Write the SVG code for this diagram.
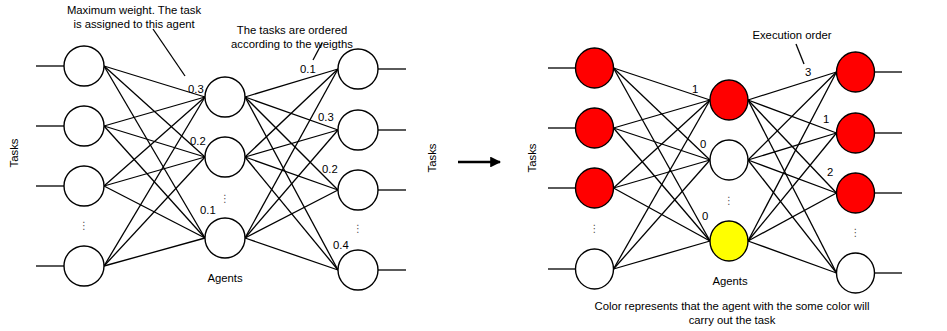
<svg xmlns="http://www.w3.org/2000/svg" width="947" height="331" viewBox="0 0 947 331">
  <style>
    .n { stroke: #000; stroke-width: 1.4; }
    .w { fill: #fff; }
    .r { fill: #ff0000; }
    .y { fill: #ffff00; }
    .e line { stroke: #000; stroke-width: 1.3; }
    .t { font-family: "Liberation Sans", Arial, sans-serif; font-size: 11.3px; fill: #000; }
    .c { text-anchor: middle; }
    .d { font-family: "DejaVu Sans", sans-serif; font-size: 10px; fill: #555; text-anchor: middle; }
  </style>
  <defs>
    <marker id="head" viewBox="0 0 10 10" refX="9" refY="5" markerWidth="4.2" markerHeight="4.2" orient="auto" markerUnits="strokeWidth">
      <path d="M0,0 L10,5 L0,10 Z" fill="#000"/>
    </marker>
  </defs>

  <!-- connectors -->
  <g id="connectors" class="e">
    <!-- left network: input stubs -->
    <line x1="36" y1="66" x2="64" y2="66"/>
    <line x1="36" y1="126" x2="64" y2="126"/>
    <line x1="36" y1="186" x2="64" y2="186"/>
    <line x1="36" y1="266" x2="64" y2="266"/>
    <!-- tasks to agents -->
    <line x1="104" y1="66" x2="205" y2="97"/>
    <line x1="104" y1="66" x2="205" y2="157"/>
    <line x1="104" y1="66" x2="205" y2="238"/>
    <line x1="104" y1="126" x2="205" y2="97"/>
    <line x1="104" y1="126" x2="205" y2="157"/>
    <line x1="104" y1="126" x2="205" y2="238"/>
    <line x1="104" y1="186" x2="205" y2="97"/>
    <line x1="104" y1="186" x2="205" y2="157"/>
    <line x1="104" y1="186" x2="205" y2="238"/>
    <line x1="104" y1="266" x2="205" y2="97"/>
    <line x1="104" y1="266" x2="205" y2="157"/>
    <line x1="104" y1="266" x2="205" y2="238"/>
    <!-- agents to ordered tasks -->
    <line x1="245" y1="97" x2="338" y2="69"/>
    <line x1="245" y1="97" x2="338" y2="130"/>
    <line x1="245" y1="97" x2="338" y2="190"/>
    <line x1="245" y1="97" x2="338" y2="270"/>
    <line x1="245" y1="157" x2="338" y2="69"/>
    <line x1="245" y1="157" x2="338" y2="130"/>
    <line x1="245" y1="157" x2="338" y2="190"/>
    <line x1="245" y1="157" x2="338" y2="270"/>
    <line x1="245" y1="238" x2="338" y2="69"/>
    <line x1="245" y1="238" x2="338" y2="130"/>
    <line x1="245" y1="238" x2="338" y2="190"/>
    <line x1="245" y1="238" x2="338" y2="270"/>
    <!-- output stubs -->
    <line x1="378" y1="69" x2="406" y2="69"/>
    <line x1="378" y1="130" x2="406" y2="130"/>
    <line x1="378" y1="190" x2="406" y2="190"/>
    <line x1="378" y1="270" x2="406" y2="270"/>
    <!-- callouts -->
    <line x1="153" y1="29" x2="185" y2="76"/>
    <line x1="322" y1="43" x2="313" y2="60"/>

    <!-- transition arrow -->
    <line x1="458" y1="162" x2="500" y2="162" stroke-width="2.6" marker-end="url(#head)" style="stroke-width:2.6"/>

    <!-- right network: input stubs -->
    <line x1="548" y1="68" x2="575.5" y2="68"/>
    <line x1="548" y1="128" x2="575.5" y2="128"/>
    <line x1="548" y1="188" x2="575.5" y2="188"/>
    <line x1="548" y1="269" x2="575.5" y2="269"/>
    <!-- tasks to agents -->
    <line x1="613.5" y1="68" x2="710" y2="100"/>
    <line x1="613.5" y1="68" x2="710" y2="160"/>
    <line x1="613.5" y1="68" x2="710" y2="241"/>
    <line x1="613.5" y1="128" x2="710" y2="100"/>
    <line x1="613.5" y1="128" x2="710" y2="160"/>
    <line x1="613.5" y1="128" x2="710" y2="241"/>
    <line x1="613.5" y1="188" x2="710" y2="100"/>
    <line x1="613.5" y1="188" x2="710" y2="160"/>
    <line x1="613.5" y1="188" x2="710" y2="241"/>
    <line x1="613.5" y1="269" x2="710" y2="100"/>
    <line x1="613.5" y1="269" x2="710" y2="160"/>
    <line x1="613.5" y1="269" x2="710" y2="241"/>
    <!-- agents to ordered tasks -->
    <line x1="748" y1="100" x2="836.5" y2="72"/>
    <line x1="748" y1="100" x2="836.5" y2="133"/>
    <line x1="748" y1="100" x2="836.5" y2="193"/>
    <line x1="748" y1="100" x2="836.5" y2="273"/>
    <line x1="748" y1="160" x2="836.5" y2="72"/>
    <line x1="748" y1="160" x2="836.5" y2="133"/>
    <line x1="748" y1="160" x2="836.5" y2="193"/>
    <line x1="748" y1="160" x2="836.5" y2="273"/>
    <line x1="748" y1="241" x2="836.5" y2="72"/>
    <line x1="748" y1="241" x2="836.5" y2="133"/>
    <line x1="748" y1="241" x2="836.5" y2="193"/>
    <line x1="748" y1="241" x2="836.5" y2="273"/>
    <!-- output stubs -->
    <line x1="874.5" y1="72" x2="902" y2="72"/>
    <line x1="874.5" y1="133" x2="902" y2="133"/>
    <line x1="874.5" y1="193" x2="902" y2="193"/>
    <line x1="874.5" y1="273" x2="902" y2="273"/>
    <!-- callout -->
    <line x1="796" y1="44" x2="804" y2="64"/>
  </g>

  <!-- left network nodes -->
  <g id="task-a1"><circle class="n w" cx="84" cy="66" r="20"/></g>
  <g id="task-a2"><circle class="n w" cx="84" cy="126" r="20"/></g>
  <g id="task-a3"><circle class="n w" cx="84" cy="186" r="20"/></g>
  <g id="task-a4"><circle class="n w" cx="84" cy="266" r="20"/></g>
  <g id="agent-a1"><circle class="n w" cx="225" cy="97" r="20"/></g>
  <g id="agent-a2"><circle class="n w" cx="225" cy="157" r="20"/></g>
  <g id="agent-a3"><circle class="n w" cx="225" cy="238" r="20"/></g>
  <g id="order-a1"><circle class="n w" cx="358" cy="69" r="20"/></g>
  <g id="order-a2"><circle class="n w" cx="358" cy="130" r="20"/></g>
  <g id="order-a3"><circle class="n w" cx="358" cy="190" r="20"/></g>
  <g id="order-a4"><circle class="n w" cx="358" cy="270" r="20"/></g>

  <!-- right network nodes -->
  <g id="task-b1"><ellipse class="n r" cx="594.5" cy="68" rx="19" ry="20"/></g>
  <g id="task-b2"><ellipse class="n r" cx="594.5" cy="128" rx="19" ry="20"/></g>
  <g id="task-b3"><ellipse class="n r" cx="594.5" cy="188" rx="19" ry="20"/></g>
  <g id="task-b4"><ellipse class="n w" cx="594.5" cy="269" rx="19" ry="20"/></g>
  <g id="agent-b1"><ellipse class="n r" cx="729" cy="100" rx="19" ry="20"/></g>
  <g id="agent-b2"><ellipse class="n w" cx="729" cy="160" rx="19" ry="20"/></g>
  <g id="agent-b3"><ellipse class="n y" cx="729" cy="241" rx="19" ry="20"/></g>
  <g id="order-b1"><ellipse class="n r" cx="855.5" cy="72" rx="19" ry="20"/></g>
  <g id="order-b2"><ellipse class="n r" cx="855.5" cy="133" rx="19" ry="20"/></g>
  <g id="order-b3"><ellipse class="n r" cx="855.5" cy="193" rx="19" ry="20"/></g>
  <g id="order-b4"><ellipse class="n w" cx="855.5" cy="273" rx="19" ry="20"/></g>

  <!-- left labels -->
  <g id="labels-left" class="t">
    <text class="t c" x="134" y="14">Maximum weight. The task</text>
    <text class="t c" x="134" y="28">is assigned to this agent</text>
    <text class="t c" x="292" y="34">The tasks are ordered</text>
    <text class="t c" x="292" y="48">according to the weigths</text>
    <text class="t" x="188" y="93">0.3</text>
    <text class="t" x="190" y="145">0.2</text>
    <text class="t" x="200" y="214">0.1</text>
    <text class="t" x="300" y="73">0.1</text>
    <text class="t" x="318" y="121">0.3</text>
    <text class="t" x="322" y="173">0.2</text>
    <text class="t" x="333" y="249">0.4</text>
    <text class="t c" x="225" y="282">Agents</text>
    <text class="t c" transform="translate(18,153) rotate(-90)">Tasks</text>
    <text class="d" x="84" y="229">⋮</text>
    <text class="d" x="225" y="202">⋮</text>
    <text class="d" x="358" y="232">⋮</text>
  </g>

  <!-- middle labels -->
  <text class="t c" transform="translate(436,158) rotate(-90)">Tasks</text>
  <text class="t c" transform="translate(536,158) rotate(-90)">Tasks</text>

  <!-- right labels -->
  <g id="labels-right" class="t">
    <text class="t c" x="792" y="39">Execution order</text>
    <text class="t" x="692" y="93">1</text>
    <text class="t" x="700" y="148">0</text>
    <text class="t" x="702" y="220">0</text>
    <text class="t" x="805" y="76">3</text>
    <text class="t" x="823" y="123">1</text>
    <text class="t" x="827" y="176">2</text>
    <text class="t c" x="730" y="285">Agents</text>
    <text class="t c" x="732" y="310">Color represents that the agent with the some color will</text>
    <text class="t c" x="732" y="324">carry out the task</text>
    <text class="d" x="594.5" y="232">⋮</text>
    <text class="d" x="729" y="204">⋮</text>
    <text class="d" x="855.5" y="236">⋮</text>
  </g>
</svg>
